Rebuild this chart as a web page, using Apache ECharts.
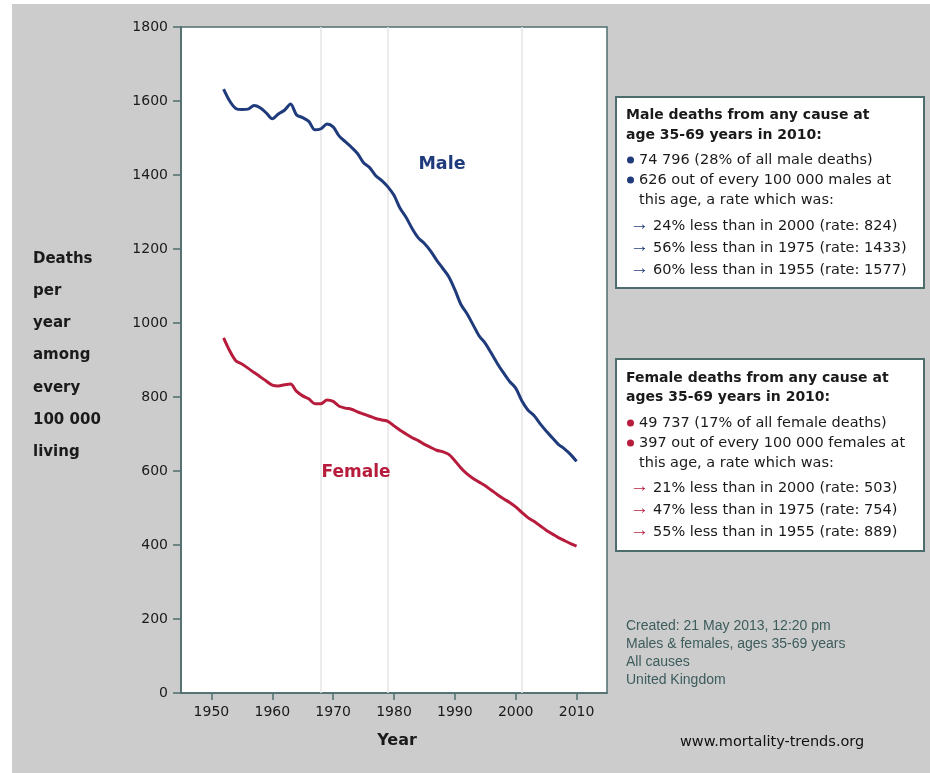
<!DOCTYPE html>
<html>
<head>
<meta charset="utf-8">
<script src="https://cdn.jsdelivr.net/npm/echarts@6/dist/echarts.min.js"></script>
<style>
html,body{margin:0;padding:0;background:#ffffff;}
#bg{position:absolute;left:12px;top:4px;width:918px;height:769px;background:#cccccc;}
#chart{position:absolute;left:0;top:0;width:930px;height:773px;}
</style>
</head>
<body>
<div id="bg"></div>
<div id="chart"></div>
<script>
// ---- data ----
const years = [1952,1953,1954,1955,1956,1957,1958,1959,1960,1961,1962,1963,1964,1965,1966,1967,1968,1969,1970,1971,1972,1973,1974,1975,1976,1977,1978,1979,1980,1981,1982,1983,1984,1985,1986,1987,1988,1989,1990,1991,1992,1993,1994,1995,1996,1997,1998,1999,2000,2001,2002,2003,2004,2005,2006,2007,2008,2009,2010];
const maleRates = [1632,1600,1580,1577,1578,1588,1582,1568,1552,1565,1575,1592,1562,1555,1545,1522,1525,1538,1530,1505,1490,1475,1458,1433,1420,1398,1385,1368,1345,1310,1285,1255,1230,1215,1195,1170,1148,1125,1090,1050,1025,995,965,945,918,890,865,842,824,790,765,750,728,708,690,672,660,645,626];
const femaleRates = [960,925,898,889,878,866,855,843,832,830,833,835,815,803,795,782,782,792,788,775,770,767,760,754,748,742,738,734,722,710,700,690,682,672,664,656,652,645,628,608,592,580,570,560,548,536,525,515,503,488,474,464,452,440,430,420,412,404,397];
const xTickYears = [1950,1960,1970,1980,1990,2000,2010];
const refYears = [1968,1979,2001];
const yAxisTitle = ['Deaths','per','year','among','every','100 000','living'];
const maleBox = {
  heading: ['Male deaths from any cause at','age 35-69 years in 2010:'],
  bullets: ['74 796 (28% of all male deaths)','626 out of every 100 000 males at'],
  cont: 'this age, a rate which was:',
  arrows: ['24% less than in 2000 (rate: 824)','56% less than in 1975 (rate: 1433)','60% less than in 1955 (rate: 1577)']
};
const femaleBox = {
  heading: ['Female deaths from any cause at','ages 35-69 years in 2010:'],
  bullets: ['49 737 (17% of all female deaths)','397 out of every 100 000 females at'],
  cont: 'this age, a rate which was:',
  arrows: ['21% less than in 2000 (rate: 503)','47% less than in 1975 (rate: 754)','55% less than in 1955 (rate: 889)']
};
const footerLines = ['Created: 21 May 2013, 12:20 pm','Males & females, ages 35-69 years','All causes','United Kingdom'];
const siteText = 'www.mortality-trends.org';

const MALE = '#1f3b7b', FEMALE = '#b71c3c', FRAME = '#4d6d6d';
const FONT = '"DejaVu Sans", Verdana, sans-serif';

const chart = echarts.init(document.getElementById('chart'), null, {renderer:'canvas'});

function txt(x, y, text, font, fill, align) {
  return {type:'text', z:100, style:{x:x, y:y, text:text, font:font, fill:fill,
    textAlign: align || 'left', textVerticalAlign:'middle', verticalAlign:'middle'}};
}

function boxGraphics(box, top, bottom, color, lineY) {
  const els = [];
  els.push({type:'rect', z:90, shape:{x:616, y:top, width:308, height:bottom-top},
    style:{fill:'#ffffff', stroke:FRAME, lineWidth:2}});
  els.push(txt(626, lineY[0], box.heading[0], 'bold 14px ' + FONT, '#1a1a1a'));
  els.push(txt(626, lineY[1], box.heading[1], 'bold 14px ' + FONT, '#1a1a1a'));
  els.push({type:'circle', z:100, shape:{cx:630.5, cy:lineY[2], r:3.5}, style:{fill:color}});
  els.push(txt(639, lineY[2], box.bullets[0], '14.5px ' + FONT, '#1a1a1a'));
  els.push({type:'circle', z:100, shape:{cx:630.5, cy:lineY[3], r:3.5}, style:{fill:color}});
  els.push(txt(639, lineY[3], box.bullets[1], '14.5px ' + FONT, '#1a1a1a'));
  els.push(txt(639, lineY[4], box.cont, '14.5px ' + FONT, '#1a1a1a'));
  for (let i = 0; i < 3; i++) {
    els.push(txt(630, lineY[5+i]-1, '\u2192', '19px "Liberation Sans", Arial, sans-serif', color));
    els.push(txt(653, lineY[5+i], box.arrows[i], '14.5px ' + FONT, '#1a1a1a'));
  }
  return els;
}

const graphics = [];
yAxisTitle.forEach((t, i) => graphics.push(txt(33, 259 + i*32.2, t, 'bold 15px ' + FONT, '#1a1a1a')));
graphics.push(txt(442, 164, 'Male', 'bold 17.5px ' + FONT, MALE, 'center'));
graphics.push(txt(356, 473, 'Female', 'bold 17px ' + FONT, FEMALE, 'center'));
graphics.push(txt(397, 741, 'Year', 'bold 16px ' + FONT, '#1a1a1a', 'center'));
graphics.push(...boxGraphics(maleBox, 97, 288, MALE, [115,135,160,180,200,226,248,270]));
graphics.push(...boxGraphics(femaleBox, 359, 551, FEMALE, [378,397,423,443,463,488,510,532]));
footerLines.forEach((t, i) => graphics.push(txt(626, 626 + i*18, t, '14px "Liberation Sans", Arial, sans-serif', '#3d5c5c')));
graphics.push(txt(680, 742, siteText, '14.5px ' + FONT, '#111111'));

const plain = v => String(v);

const option = {
  animation: false,
  backgroundColor: 'transparent',
  grid: {left:181, right:323, top:27, bottom:80, show:true, backgroundColor:'#ffffff', borderColor:FRAME, borderWidth:1.5},
  xAxis: {
    type:'value', min:1945, max:2015,
    axisLine:{show:true, lineStyle:{color:FRAME, width:1.5}},
    axisTick:{show:true, length:7, customValues:xTickYears, lineStyle:{color:FRAME, width:1.5}},
    axisLabel:{customValues:xTickYears, formatter:plain, margin:12, color:'#1a1a1a', fontSize:14, fontFamily:'DejaVu Sans'},
    splitLine:{show:false}
  },
  yAxis: {
    type:'value', min:0, max:1800, interval:200,
    axisLine:{show:true, lineStyle:{color:FRAME, width:1.5}},
    axisTick:{show:true, length:8, lineStyle:{color:FRAME, width:1.5}},
    axisLabel:{formatter:plain, margin:13, color:'#1a1a1a', fontSize:14, fontFamily:'DejaVu Sans'},
    splitLine:{show:false}
  },
  series: [
    {name:'Male', type:'line', smooth:0.3, symbol:'none', data: years.map((y,i)=>[y, maleRates[i]]),
      lineStyle:{color:MALE, width:3}, z:5,
      markLine:{silent:true, symbol:'none', label:{show:false}, lineStyle:{color:'#e4e4e4', width:1.5, type:'solid'},
        data: refYears.map(y=>({xAxis:y}))}},
    {name:'Female', type:'line', smooth:0.3, symbol:'none', data: years.map((y,i)=>[y, femaleRates[i]]),
      lineStyle:{color:FEMALE, width:3}, z:5}
  ],
  graphic: graphics
};
chart.setOption(option);
</script>
</body>
</html>
